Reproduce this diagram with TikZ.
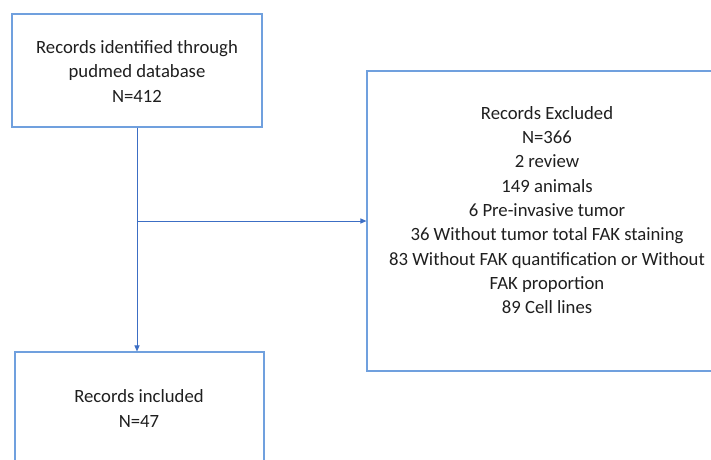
\documentclass[tikz,border=0pt]{standalone}
\usepackage{fontspec}
\setmainfont{Carlito}
\usetikzlibrary{arrows.meta}
\definecolor{boxblue}{RGB}{112,160,222}
\definecolor{linkblue}{RGB}{60,110,196}
\begin{document}
\begin{tikzpicture}[x=1pt,y=-1pt,
  box/.style={draw=boxblue,line width=1.1pt,rectangle,inner sep=0pt},
  txt/.style={align=center,font=\fontsize{18.7}{24.3}\selectfont,text=black!88,inner sep=0pt},
  link/.style={draw=linkblue,line width=1pt,-{Triangle[length=6pt,width=5pt]}}]
\useasboundingbox (0,0) rectangle (711,459);
\clip (0,0) rectangle (711,459);
\fill[white] (0,0) rectangle (711,459);
\node[box,minimum width=250pt,minimum height=113pt] (b1) at (137,70.5) {};
\node[txt] (t1) at (137,71.5) {Records identified through\\pudmed database\\N=412};
\node[box,minimum width=360pt,minimum height=300pt] (ex) at (547,221) {};
\node[txt] (t2) at (547,210) {Records Excluded\\N=366\\2 review\\149 animals\\6 Pre-invasive tumor\\36 Without tumor total FAK staining\\83 Without FAK quantification or Without\\FAK proportion\\89 Cell lines};
\node[box,minimum width=249pt,minimum height=113pt] (b3) at (139.5,408.5) {};
\node[txt] (t3) at (139,408.5) {Records included\\N=47};
\coordinate (br) at (b1.south |- ex.west);
\draw[link] (b1.south) -- (b1.south |- b3.north);
\draw[link] (br) -- (ex.west);
\end{tikzpicture}
\end{document}
